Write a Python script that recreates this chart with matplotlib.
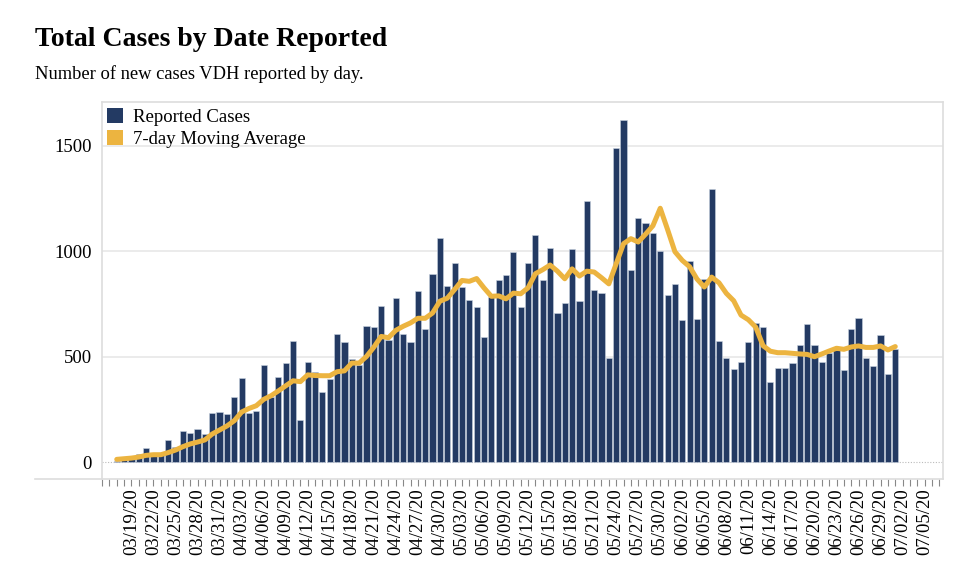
import matplotlib
matplotlib.use('Agg')
import matplotlib.pyplot as plt
from matplotlib.lines import Line2D
from matplotlib.patches import Patch
import numpy as np
import pandas as pd

# daily values, 03/17/20 .. 07/01/20
start_date = '2020-03-17'
reported_cases = [
    8, 10, 20, 38, 66, 35, 40, 106, 71, 150,
    139, 156, 133, 233, 237, 228, 310, 399, 234, 245,
    460, 310, 405, 471, 576, 200, 475, 427, 332, 393,
    609, 569, 487, 460, 646, 642, 741, 580, 780, 608,
    569, 813, 631, 891, 1062, 834, 946, 829, 769, 736,
    592, 782, 864, 889, 995, 735, 946, 1074, 864, 1014,
    709, 755, 1008, 765, 1236, 814, 804, 496, 1488, 1620,
    909, 1157, 1134, 1085, 1002, 793, 844, 672, 951, 678,
    869, 1292, 575, 492, 441, 473, 568, 661, 640, 379,
    446, 446, 468, 557, 657, 557, 473, 516, 530, 435,
    629, 685, 492, 457, 601, 419, 538,
]
moving_average = [
    14, 17, 20, 25, 33, 36, 36, 46, 58, 74,
    87, 96, 106, 134, 153, 172, 197, 238, 255, 268,
    298, 315, 338, 362, 386, 382, 414, 411, 410, 410,
    429, 433, 470, 470, 501, 545, 596, 590, 625, 644,
    660, 682, 682, 707, 763, 777, 818, 861, 857, 870,
    826, 786, 788, 774, 801, 798, 826, 893, 912, 934,
    905, 869, 916, 882, 905, 901, 874, 845, 940, 1035,
    1059, 1043, 1080, 1120, 1203, 1102, 997, 956, 926, 868,
    830, 877, 850, 800, 765, 697, 675, 640, 552, 526,
    519, 519, 516, 513, 511, 500, 513, 527, 540, 535,
    546, 551, 544, 544, 551, 532, 548,
]
legend_labels = ['Reported Cases', '7-day Moving Average']
y_ticks = [0, 500, 1000, 1500]

bar_color = '#233a63'
line_color = '#ecb440'
frame_color = '#dddddd'
grid_color = '#e8e8e8'

plt.rcParams['font.family'] = ['Liberation Serif', 'DejaVu Serif']

dates = pd.date_range(start_date, periods=len(reported_cases))
x = np.arange(len(reported_cases))

fig = plt.figure(figsize=(9.6, 5.74), dpi=100)
ax = fig.add_axes([101.7 / 960, 1 - 479 / 574, (943 - 101.7) / 960, (479 - 102) / 574])

ax.bar(x, reported_cases, width=0.84, color=bar_color, edgecolor='#c9d2e0',
       linewidth=0.4, zorder=2)
ax.plot(x, moving_average, color=line_color, linewidth=3.6, solid_joinstyle='round',
        solid_capstyle='round', zorder=3)

ax.set_xlim(-2.05, 112.5)
ax.set_ylim(-79, 1706)

# grid lines, dotted at zero
for yv in y_ticks[1:]:
    ax.axhline(yv, color=grid_color, linewidth=1.2, zorder=1)
ax.axhline(0, color='#bbbbbb', linewidth=0.8, linestyle=(0, (1, 1.5)), zorder=1)

ax.set_yticks(y_ticks)
ax.set_yticklabels([str(v) for v in y_ticks], fontsize=13.5)
ax.tick_params(axis='y', length=0, pad=7)

# daily ticks, a date label every third day
tick_pos = np.arange(-2, 113)
ax.set_xticks(tick_pos, minor=True)
label_pos = np.arange(2, 111, 3)
label_dates = pd.date_range('2020-03-15', periods=115)
ax.set_xticks(label_pos)
ax.set_xticklabels([label_dates[p + 2].strftime('%m/%d/%y') for p in label_pos],
                   rotation=90, fontsize=13.5)
ax.tick_params(axis='x', which='both', length=5, color='#888888', width=0.8,
               direction='out', pad=1.5)

for side in ['top', 'right', 'left']:
    ax.spines[side].set_color(frame_color)
    ax.spines[side].set_linewidth(1.2)
ax.spines['bottom'].set_visible(False)
fig.add_artist(Line2D([35 / 960, 943 / 960], [1 - 479 / 574, 1 - 479 / 574],
                      color=frame_color, linewidth=1.2))

handles = [Patch(facecolor=bar_color), Patch(facecolor=line_color)]
ax.legend(handles, legend_labels, loc='upper left', frameon=False, fontsize=13.5,
          handlelength=0.85, handleheight=0.9, handletextpad=0.5, borderaxespad=0.1,
          labelspacing=0.2, borderpad=0.2)

fig.text(35 / 960, 1 - 40 / 574, 'Total Cases by Date Reported', fontsize=20,
         fontweight='bold', va='center', ha='left')
fig.text(35 / 960, 1 - 74 / 574, 'Number of new cases VDH reported by day.',
         fontsize=13.3, va='center', ha='left')

fig.savefig('out.png', dpi=100)
